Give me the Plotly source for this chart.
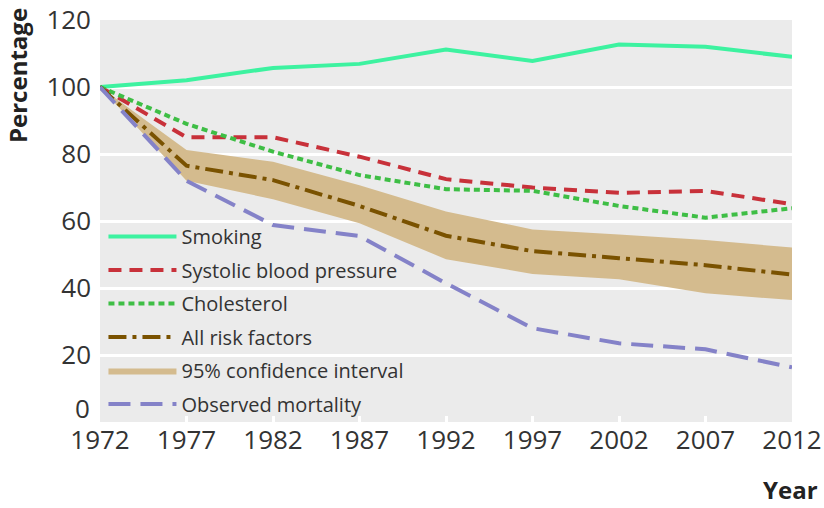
import plotly.graph_objects as go

years = [1972, 1977, 1982, 1987, 1992, 1997, 2002, 2007, 2012]
smoking = [100, 102, 105.7, 106.9, 111.2, 107.8, 112.7, 112, 109]
sbp = [100, 85, 85, 79.2, 72.5, 70, 68.4, 69, 65]
cholesterol = [100, 89, 80.7, 73.7, 69.5, 69, 64.5, 61, 63.8]
all_risk = [100, 76.5, 72.2, 64.5, 55.6, 51.0, 48.9, 46.8, 44]
ci_upper = [100, 81.2, 77.7, 70.7, 62.8, 57.5, 56, 54.3, 52.1]
ci_lower = [100, 72, 66.5, 59.3, 48.6, 44.2, 42.6, 38.4, 36.4]
observed = [100, 72, 58.8, 55.5, 41.4, 28, 23.5, 21.7, 16.3]
y_ticks = [0, 20, 40, 60, 80, 100, 120]
y_ticklabels = ["", "20", "40", "60", "80", "100", "120"]

FONT = "Open Sans"
TXT = "#333333"
fig = go.Figure()

fig.add_trace(go.Scatter(
    x=years + years[::-1], y=ci_upper + ci_lower[::-1],
    fill="toself", fillcolor="#D4BB8E", line=dict(width=0),
    mode="lines", name="95% confidence interval",
    legendgroup="g5", legendrank=5, hoverinfo="skip"))

fig.add_trace(go.Scatter(x=years, y=smoking, mode="lines", name="Smoking",
                         line=dict(color="#3DF2A0", width=4),
                         legendgroup="g1", legendrank=1))
fig.add_trace(go.Scatter(x=years, y=sbp, mode="lines", name="Systolic blood pressure",
                         line=dict(color="#C8313A", width=4, dash="13px,8px"),
                         legendgroup="g2", legendrank=2))
fig.add_trace(go.Scatter(x=years, y=cholesterol, mode="lines", name="Cholesterol",
                         line=dict(color="#3EBE45", width=4, dash="6px,4px"),
                         legendgroup="g3", legendrank=3))
fig.add_trace(go.Scatter(x=years, y=all_risk, mode="lines", name="All risk factors",
                         line=dict(color="#7A5200", width=4, dash="18px,6px,4px,6px"),
                         legendgroup="g4", legendrank=4))
fig.add_trace(go.Scatter(x=years, y=observed, mode="lines", name="Observed mortality",
                         line=dict(color="#8482C8", width=4, dash="22px,10px"),
                         legendgroup="g6", legendrank=6))

fig.update_layout(
    width=824, height=508,
    margin=dict(l=100, r=32, t=20, b=86),
    paper_bgcolor="white", plot_bgcolor="#EBEBEB",
    font=dict(family=FONT, color=TXT),
    showlegend=True,
    legend=dict(
        x=0.005, y=0.51, xanchor="left", yanchor="top",
        bgcolor="rgba(0,0,0,0)", borderwidth=0,
        font=dict(family=FONT, size=20, color=TXT),
        traceorder="grouped", tracegroupgap=4.5, itemwidth=68,
    ),
    xaxis=dict(
        range=[1972, 2012], tickvals=years, ticktext=[str(y) for y in years],
        showgrid=False, zeroline=False, showline=False, automargin=False,
        ticks="inside", ticklen=6, tickwidth=3, tickcolor="white",
        tickfont=dict(family=FONT, size=26, color=TXT),
        ticklabeloverflow="allow",
    ),
    yaxis=dict(
        range=[0, 120], tickvals=y_ticks, ticktext=y_ticklabels,
        showgrid=True, gridcolor="white", gridwidth=3, automargin=False,
        zeroline=False, showline=False, ticks="",
        tickfont=dict(family=FONT, size=26, color=TXT),
        ticklabelstandoff=8, ticklabeloverflow="allow",
    ),
    annotations=[
        dict(text="0", xref="paper", yref="y", x=-0.012, y=4.2,
             xanchor="right", yanchor="middle", showarrow=False,
             font=dict(family=FONT, size=26, color=TXT)),
        dict(text="<b>Percentage</b>", textangle=-90, xref="paper", yref="paper",
             x=-0.12, y=0.863, xanchor="center", yanchor="middle", showarrow=False,
             font=dict(family=FONT, size=24, color="#222222")),
        dict(text="<b>Year</b>", xref="paper", yref="paper",
             x=1.04, y=-0.169, xanchor="right", yanchor="middle", showarrow=False,
             font=dict(family=FONT, size=24, color="#222222")),
    ],
)

fig.write_html("out.html", config={"displayModeBar": False},
               post_script="document.body.style.margin='0px';document.body.style.overflow='hidden';")
